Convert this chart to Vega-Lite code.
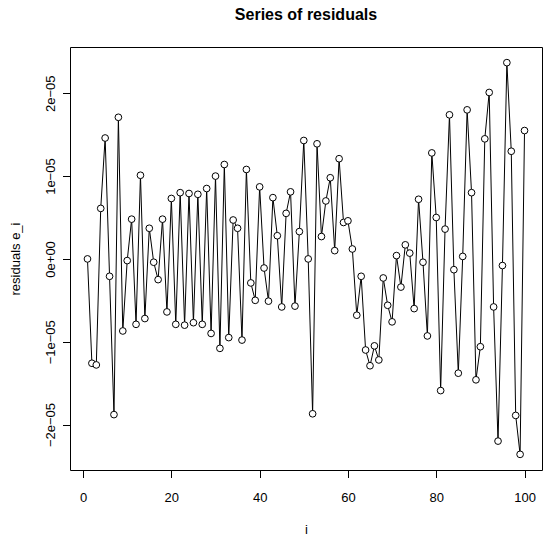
{
  "$schema": "https://vega.github.io/schema/vega-lite/v6.json",
  "autosize": {"type": "none"},
  "padding": {"left": 70, "top": 47, "right": 8, "bottom": 70},
  "width": 472,
  "height": 423,
  "background": "white",
  "title": {
    "text": "Series of residuals",
    "font": "Liberation Sans",
    "fontSize": 16,
    "fontWeight": "bold",
    "color": "black",
    "anchor": "middle",
    "baseline": "alphabetic",
    "offset": 11
  },
  "data": {
    "values": [
      {"i": 1, "e": 0.0},
      {"i": 2, "e": -1.26e-05},
      {"i": 3, "e": -1.28e-05},
      {"i": 4, "e": 6.1e-06},
      {"i": 5, "e": 1.46e-05},
      {"i": 6, "e": -2.1e-06},
      {"i": 7, "e": -1.88e-05},
      {"i": 8, "e": 1.71e-05},
      {"i": 9, "e": -8.7e-06},
      {"i": 10, "e": -2e-07},
      {"i": 11, "e": 4.8e-06},
      {"i": 12, "e": -7.9e-06},
      {"i": 13, "e": 1.01e-05},
      {"i": 14, "e": -7.2e-06},
      {"i": 15, "e": 3.7e-06},
      {"i": 16, "e": -4e-07},
      {"i": 17, "e": -2.5e-06},
      {"i": 18, "e": 4.8e-06},
      {"i": 19, "e": -6.4e-06},
      {"i": 20, "e": 7.3e-06},
      {"i": 21, "e": -7.9e-06},
      {"i": 22, "e": 8.0e-06},
      {"i": 23, "e": -8.0e-06},
      {"i": 24, "e": 7.9e-06},
      {"i": 25, "e": -7.7e-06},
      {"i": 26, "e": 7.8e-06},
      {"i": 27, "e": -7.9e-06},
      {"i": 28, "e": 8.5e-06},
      {"i": 29, "e": -9.0e-06},
      {"i": 30, "e": 1.0e-05},
      {"i": 31, "e": -1.08e-05},
      {"i": 32, "e": 1.14e-05},
      {"i": 33, "e": -9.5e-06},
      {"i": 34, "e": 4.7e-06},
      {"i": 35, "e": 3.7e-06},
      {"i": 36, "e": -9.8e-06},
      {"i": 37, "e": 1.08e-05},
      {"i": 38, "e": -2.9e-06},
      {"i": 39, "e": -5.0e-06},
      {"i": 40, "e": 8.7e-06},
      {"i": 41, "e": -1.1e-06},
      {"i": 42, "e": -5.1e-06},
      {"i": 43, "e": 7.4e-06},
      {"i": 44, "e": 2.8e-06},
      {"i": 45, "e": -5.8e-06},
      {"i": 46, "e": 5.5e-06},
      {"i": 47, "e": 8.1e-06},
      {"i": 48, "e": -5.7e-06},
      {"i": 49, "e": 3.3e-06},
      {"i": 50, "e": 1.43e-05},
      {"i": 51, "e": 0.0},
      {"i": 52, "e": -1.87e-05},
      {"i": 53, "e": 1.39e-05},
      {"i": 54, "e": 2.7e-06},
      {"i": 55, "e": 7.0e-06},
      {"i": 56, "e": 9.8e-06},
      {"i": 57, "e": 1.0e-06},
      {"i": 58, "e": 1.21e-05},
      {"i": 59, "e": 4.4e-06},
      {"i": 60, "e": 4.6e-06},
      {"i": 61, "e": 1.2e-06},
      {"i": 62, "e": -6.8e-06},
      {"i": 63, "e": -2.1e-06},
      {"i": 64, "e": -1.1e-05},
      {"i": 65, "e": -1.29e-05},
      {"i": 66, "e": -1.05e-05},
      {"i": 67, "e": -1.22e-05},
      {"i": 68, "e": -2.3e-06},
      {"i": 69, "e": -5.6e-06},
      {"i": 70, "e": -7.6e-06},
      {"i": 71, "e": 4e-07},
      {"i": 72, "e": -3.4e-06},
      {"i": 73, "e": 1.7e-06},
      {"i": 74, "e": 7e-07},
      {"i": 75, "e": -6.0e-06},
      {"i": 76, "e": 7.2e-06},
      {"i": 77, "e": -4e-07},
      {"i": 78, "e": -9.3e-06},
      {"i": 79, "e": 1.28e-05},
      {"i": 80, "e": 5.0e-06},
      {"i": 81, "e": -1.59e-05},
      {"i": 82, "e": 3.6e-06},
      {"i": 83, "e": 1.74e-05},
      {"i": 84, "e": -1.3e-06},
      {"i": 85, "e": -1.38e-05},
      {"i": 86, "e": 3e-07},
      {"i": 87, "e": 1.8e-05},
      {"i": 88, "e": 8.0e-06},
      {"i": 89, "e": -1.46e-05},
      {"i": 90, "e": -1.06e-05},
      {"i": 91, "e": 1.45e-05},
      {"i": 92, "e": 2.01e-05},
      {"i": 93, "e": -5.8e-06},
      {"i": 94, "e": -2.2e-05},
      {"i": 95, "e": -8e-07},
      {"i": 96, "e": 2.37e-05},
      {"i": 97, "e": 1.3e-05},
      {"i": 98, "e": -1.89e-05},
      {"i": 99, "e": -2.36e-05},
      {"i": 100, "e": 1.55e-05}
    ]
  },
  "encoding": {
    "x": {
      "field": "i",
      "type": "quantitative",
      "scale": {"domain": [-2.96, 103.96], "nice": false, "zero": false},
      "axis": {
        "title": "i",
        "values": [0, 20, 40, 60, 80, 100],
        "grid": false,
        "domain": false,
        "tickSize": 7.5,
        "tickColor": "black",
        "labelColor": "black",
        "labelFont": "Liberation Sans",
        "labelFontSize": 13,
        "labelBaseline": "alphabetic",
        "labelPadding": 23.5,
        "labelFlush": false,
        "titleFont": "Liberation Sans",
        "titleFontSize": 13,
        "titleFontWeight": "normal",
        "titleColor": "black",
        "titleBaseline": "alphabetic",
        "titleY": 63
      }
    },
    "y": {
      "field": "e",
      "type": "quantitative",
      "scale": {"domain": [-2.549e-05, 2.559e-05], "nice": false, "zero": false},
      "axis": {
        "title": "residuals e_i",
        "values": [-2e-05, -1e-05, 0, 1e-05, 2e-05],
        "labelExpr": "datum.value == 0 ? '0e+00' : (datum.value < 0 ? '\u2212' : '') + format(round(abs(datum.value) * 100000), 'd') + 'e\u221205'",
        "grid": false,
        "domain": false,
        "tickSize": 7.5,
        "tickColor": "black",
        "labelColor": "black",
        "labelFont": "Liberation Sans",
        "labelFontSize": 13,
        "labelAngle": -90,
        "labelAlign": "center",
        "labelBaseline": "alphabetic",
        "labelPadding": 8,
        "labelFlush": false,
        "titleFont": "Liberation Sans",
        "titleFontSize": 13,
        "titleFontWeight": "normal",
        "titleColor": "black",
        "titleBaseline": "alphabetic",
        "titleX": -50.5
      }
    }
  },
  "layer": [
    {"mark": {"type": "line", "color": "black", "strokeWidth": 1}},
    {"mark": {"type": "point", "shape": "circle", "size": 45, "filled": false, "fill": "white", "fillOpacity": 1, "stroke": "black", "strokeWidth": 1, "opacity": 1}}
  ],
  "config": {
    "view": {"stroke": "black", "strokeWidth": 1}
  }
}
